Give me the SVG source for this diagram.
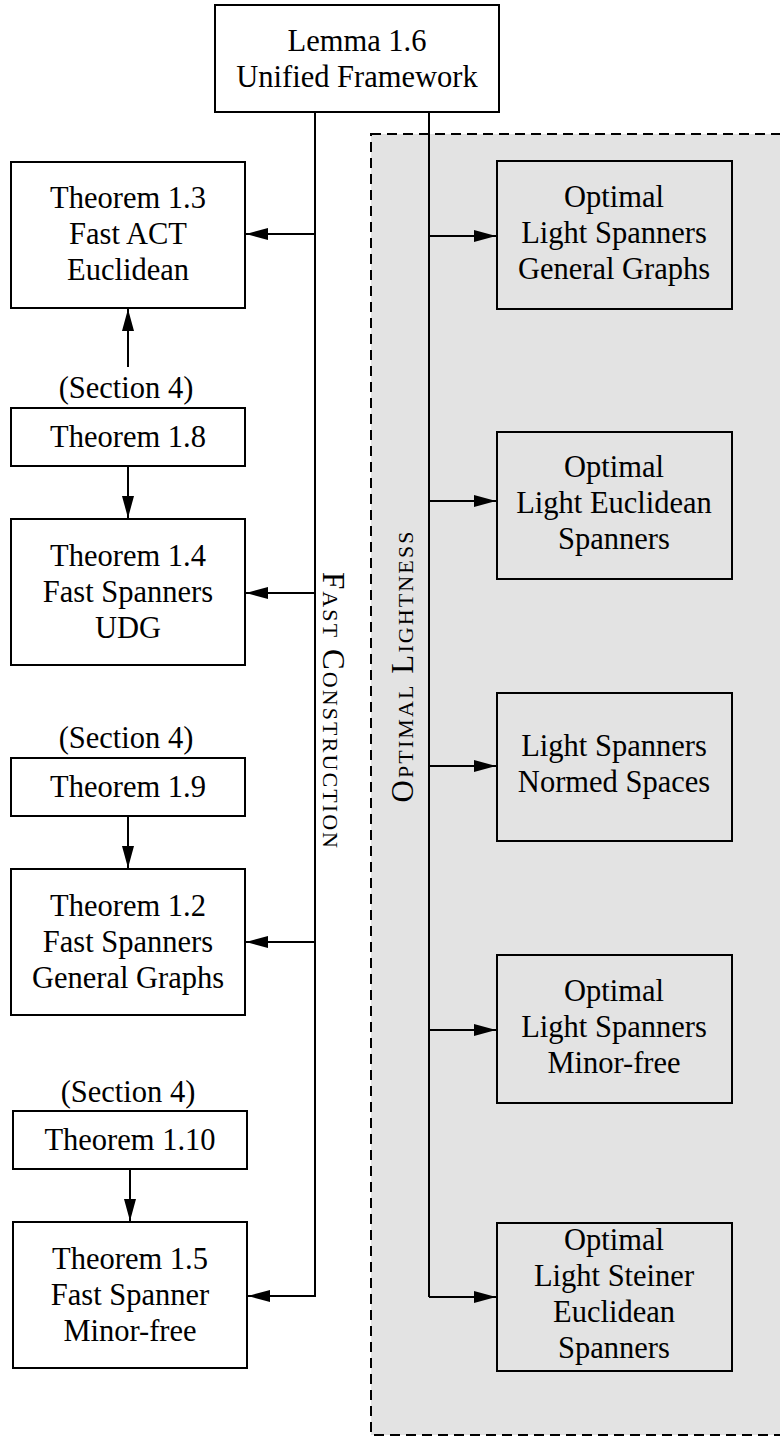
<svg xmlns="http://www.w3.org/2000/svg" width="780" height="1436" viewBox="0 0 780 1436">
<style>
text{font-family:"Liberation Serif","Times New Roman",serif;font-size:30.5px;fill:#000;text-anchor:middle}
.box{fill:#fff;stroke:#000;stroke-width:2}
.gbox{fill:none;stroke:#000;stroke-width:2}
.ln{fill:none;stroke:#000;stroke-width:2}
.sc{font-variant:small-caps;font-size:31px}
</style>
<defs>
<marker id="ah" markerUnits="userSpaceOnUse" markerWidth="24" markerHeight="12" refX="22" refY="6" orient="auto">
<path d="M0,0 L22,6 L0,12 z" fill="#000"/>
</marker>
</defs>
<rect id="region" x="371" y="134" width="420" height="1301" fill="#e3e3e3" stroke="#000" stroke-width="2" stroke-dasharray="10,6"/>
<g id="connectors">
<line class="ln" x1="315" y1="112" x2="315" y2="1297"/>
<line class="ln" x1="429" y1="112" x2="429" y2="1297"/>
<line class="ln" x1="315" y1="234" x2="246" y2="234" marker-end="url(#ah)"/>
<line class="ln" x1="315" y1="593" x2="246" y2="593" marker-end="url(#ah)"/>
<line class="ln" x1="315" y1="942" x2="246" y2="942" marker-end="url(#ah)"/>
<line class="ln" x1="315" y1="1296" x2="248" y2="1296" marker-end="url(#ah)"/>
<line class="ln" x1="429" y1="236" x2="496" y2="236" marker-end="url(#ah)"/>
<line class="ln" x1="429" y1="501" x2="496" y2="501" marker-end="url(#ah)"/>
<line class="ln" x1="429" y1="766" x2="496" y2="766" marker-end="url(#ah)"/>
<line class="ln" x1="429" y1="1030" x2="496" y2="1030" marker-end="url(#ah)"/>
<line class="ln" x1="429" y1="1297" x2="496" y2="1297" marker-end="url(#ah)"/>
<line class="ln" x1="128" y1="367" x2="128" y2="309" marker-end="url(#ah)"/>
<line class="ln" x1="128" y1="466" x2="128" y2="518" marker-end="url(#ah)"/>
<line class="ln" x1="128" y1="816" x2="128" y2="868" marker-end="url(#ah)"/>
<line class="ln" x1="130" y1="1169" x2="130" y2="1221" marker-end="url(#ah)"/>
</g>
<g id="lemma16">
<rect class="box" x="215" y="5" width="284" height="107"/>
<text x="357" y="51">Lemma 1.6</text>
<text x="357" y="87">Unified Framework</text>
</g>
<g id="thm13">
<rect class="box" x="11" y="162" width="234" height="146"/>
<text x="128" y="208">Theorem 1.3</text>
<text x="128" y="244">Fast ACT</text>
<text x="128" y="280">Euclidean</text>
</g>
<g id="thm18">
<text x="126" y="398">(Section 4)</text>
<rect class="box" x="11" y="408" width="234" height="58"/>
<text x="128" y="447">Theorem 1.8</text>
</g>
<g id="thm14">
<rect class="box" x="11" y="519" width="234" height="146"/>
<text x="128" y="566">Theorem 1.4</text>
<text x="128" y="602">Fast Spanners</text>
<text x="128" y="638">UDG</text>
</g>
<g id="thm19">
<text x="126" y="748">(Section 4)</text>
<rect class="box" x="11" y="758" width="234" height="58"/>
<text x="128" y="797">Theorem 1.9</text>
</g>
<g id="thm12">
<rect class="box" x="11" y="869" width="234" height="146"/>
<text x="128" y="916">Theorem 1.2</text>
<text x="128" y="952">Fast Spanners</text>
<text x="128" y="988">General Graphs</text>
</g>
<g id="thm110">
<text x="128" y="1102">(Section 4)</text>
<rect class="box" x="13" y="1111" width="234" height="58"/>
<text x="130" y="1150">Theorem 1.10</text>
</g>
<g id="thm15">
<rect class="box" x="13" y="1222" width="234" height="146"/>
<text x="130" y="1269">Theorem 1.5</text>
<text x="130" y="1305">Fast Spanner</text>
<text x="130" y="1341">Minor-free</text>
</g>
<g id="lblFast">
<text class="sc" transform="translate(323,710) rotate(90)" textLength="276" lengthAdjust="spacing">Fast Construction</text>
</g>
<g id="lblOpt">
<text class="sc" transform="translate(413,667) rotate(-90)" textLength="271" lengthAdjust="spacing">Optimal Lightness</text>
</g>
<g id="r1">
<rect class="gbox" x="497" y="161" width="235" height="148"/>
<text x="614" y="207">Optimal</text>
<text x="614" y="243">Light Spanners</text>
<text x="614" y="279">General Graphs</text>
</g>
<g id="r2">
<rect class="gbox" x="497" y="432" width="235" height="147"/>
<text x="614" y="477">Optimal</text>
<text x="614" y="513">Light Euclidean</text>
<text x="614" y="549">Spanners</text>
</g>
<g id="r3">
<rect class="gbox" x="497" y="693" width="235" height="148"/>
<text x="614" y="756">Light Spanners</text>
<text x="614" y="792">Normed Spaces</text>
</g>
<g id="r4">
<rect class="gbox" x="497" y="955" width="235" height="148"/>
<text x="614" y="1001">Optimal</text>
<text x="614" y="1037">Light Spanners</text>
<text x="614" y="1073">Minor-free</text>
</g>
<g id="r5">
<rect class="gbox" x="497" y="1223" width="235" height="148"/>
<text x="614" y="1250">Optimal</text>
<text x="614" y="1286">Light Steiner</text>
<text x="614" y="1322">Euclidean</text>
<text x="614" y="1358">Spanners</text>
</g>
</svg>
